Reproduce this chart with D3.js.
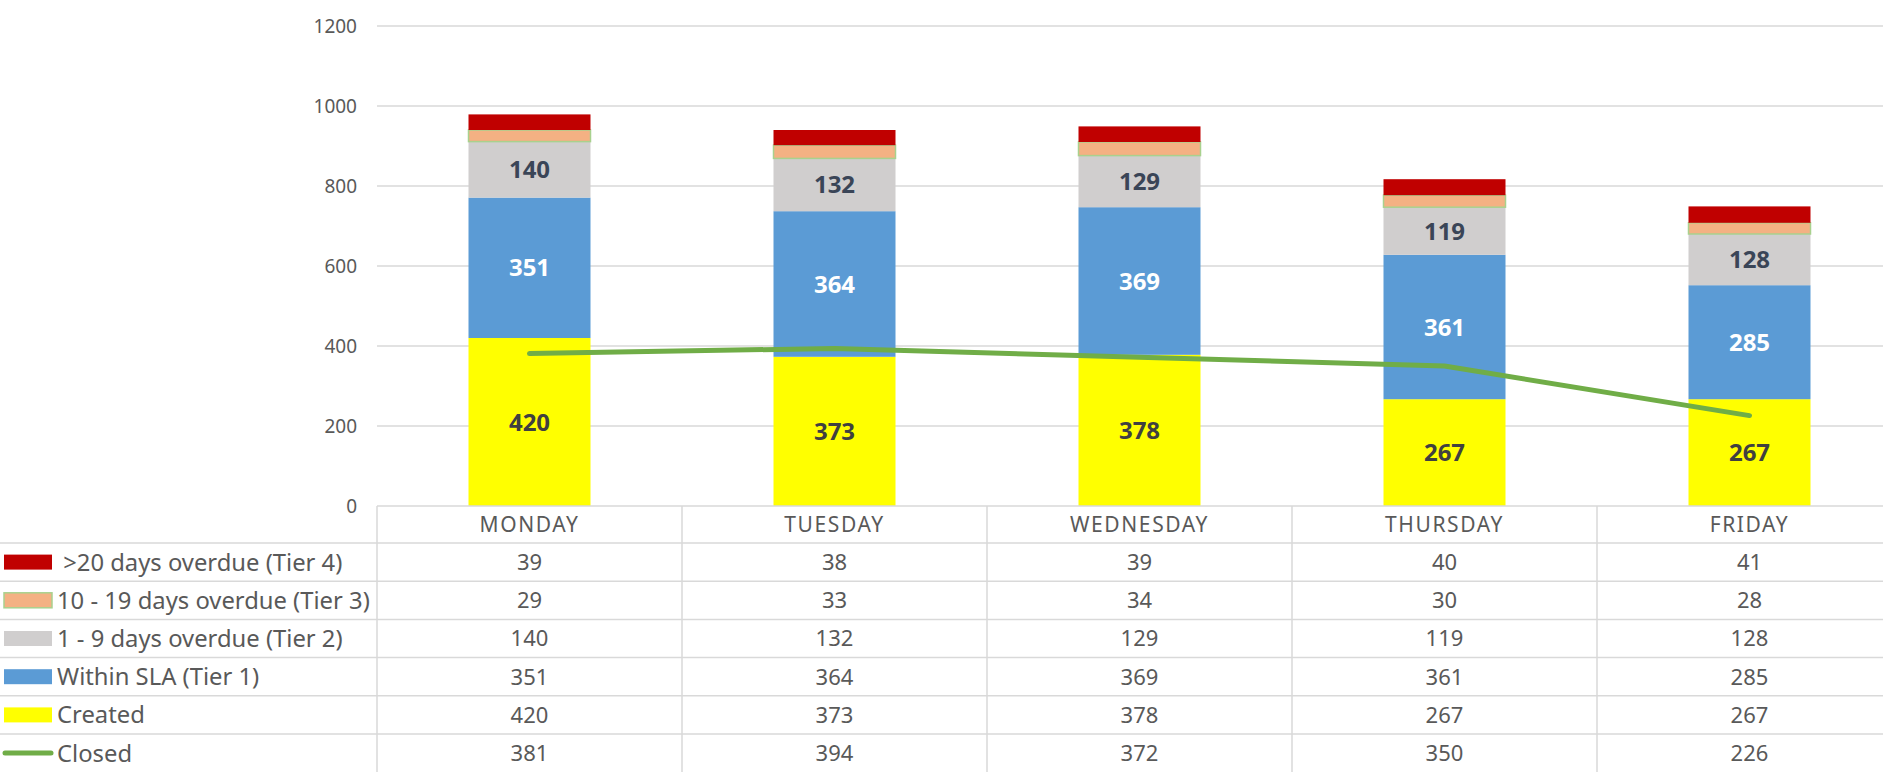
<!DOCTYPE html>
<html><head><meta charset="utf-8">
<script src="https://cdn.jsdelivr.net/npm/d3@7"></script>
<style>
html,body{margin:0;padding:0;background:#fff;}
svg{display:block;font-family:"Noto Sans",sans-serif;}
</style></head>
<body><svg id="c" width="1883" height="772"></svg>
<script>
const days = ["MONDAY","TUESDAY","WEDNESDAY","THURSDAY","FRIDAY"];
const tier4 = [39,38,39,40,41];
const tier3 = [29,33,34,30,28];
const tier2 = [140,132,129,119,128];
const tier1 = [351,364,369,361,285];
const created = [420,373,378,267,267];
const closed = [381,394,372,350,226];
const yTicks = [0,200,400,600,800,1000,1200];
const seriesNames = [" >20 days overdue (Tier 4)","10 - 19 days overdue (Tier 3)","1 - 9 days overdue (Tier 2)","Within SLA (Tier 1)","Created","Closed"];

const colors = {t4:"#C00000", t3:"#F4B183", t2:"#D0CECE", t1:"#5B9BD5", cr:"#FFFF00", cl:"#70AD47"};

const W = 1883, H = 772;
const svg = d3.select("#c");
const plotLeft = 377, band = 305;
const x = d3.scaleBand().domain(days).range([plotLeft, plotLeft + band*days.length]).paddingInner(0).paddingOuter(0);
const y = d3.scaleLinear().domain([0,1200]).range([506,26]);
const barW = x.bandwidth()*0.4;
const grid = "#D9D9D9";
const txt = "#595959";

// gridlines
svg.append("g").selectAll("line").data(yTicks.filter(d=>d>0)).join("line")
  .attr("x1", plotLeft).attr("x2", W).attr("y1", d=>y(d)).attr("y2", d=>y(d))
  .attr("stroke", grid).attr("stroke-width", 1.5);

// y axis labels
const yAxis = d3.axisLeft(y).tickValues(yTicks).tickFormat(d3.format("d")).tickSize(0).tickPadding(0);
const ya = svg.append("g").attr("transform", `translate(357,0)`).call(yAxis);
ya.select(".domain").remove();
ya.selectAll("text").attr("font-family","Noto Sans").attr("font-size",19).attr("fill",txt).attr("dy","0.35em");

// stacked bars
const layers = [
  {key:"cr", vals:created},
  {key:"t1", vals:tier1},
  {key:"t2", vals:tier2},
  {key:"t3", vals:tier3},
  {key:"t4", vals:tier4}
];
const rows = days.map((d,i)=>{ const o={day:d}; layers.forEach(l=>o[l.key]=l.vals[i]); return o; });
const stack = d3.stack().keys(layers.map(l=>l.key))(rows);
const bars = svg.append("g");
stack.forEach(s=>{
  bars.append("g").selectAll("rect").data(s).join("rect")
    .attr("x", d=>x(d.data.day) + (x.bandwidth()-barW)/2)
    .attr("width", barW)
    .attr("y", d=>y(d[1]))
    .attr("height", d=>y(d[0])-y(d[1]))
    .attr("fill", colors[s.key])
    .attr("stroke", s.key==="t3" ? "#A9D18E" : "none")
    .attr("stroke-width", s.key==="t3" ? 1.5 : 0);
});
// data labels
const labelColors = {cr:"#404040", t1:"#FFFFFF", t2:"#3A4557"};
stack.filter(s=>labelColors[s.key]).forEach(s=>{
  svg.append("g").selectAll("text").data(s).join("text")
    .attr("x", d=>x(d.data.day)+x.bandwidth()/2)
    .attr("y", d=>y((d[0]+d[1])/2))
    .attr("dy","0.36em")
    .attr("text-anchor","middle")
    .attr("font-size",24).attr("font-weight","bold")
    .attr("fill", labelColors[s.key])
    .text(d=>d[1]-d[0]);
});

// closed line
const line = d3.line().x((d,i)=>x(days[i])+x.bandwidth()/2).y(d=>y(d));
svg.append("path").datum(closed).attr("d", line).attr("fill","none")
  .attr("stroke", colors.cl).attr("stroke-width", 5).attr("stroke-linecap","round").attr("stroke-linejoin","round");

// data table
const tTop = 506, headH = 37, rowH = 38.2;
const tbl = svg.append("g");
const rowTops = d3.range(seriesNames.length+1).map(i=>tTop+headH+i*rowH);
tbl.append("line").attr("x1",plotLeft).attr("x2",W).attr("y1",tTop).attr("y2",tTop).attr("stroke",grid).attr("stroke-width",1.5);
tbl.selectAll("line.h").data(rowTops.slice(0,-1)).join("line").attr("class","h")
  .attr("x1",0).attr("x2",W).attr("y1",d=>d).attr("y2",d=>d).attr("stroke",grid).attr("stroke-width",1.5);
const vx = days.map(d=>x(d)).concat([x(days[days.length-1])+x.bandwidth()]);
tbl.selectAll("line.v").data(vx).join("line").attr("class","v")
  .attr("x1",d=>d).attr("x2",d=>d).attr("y1",tTop).attr("y2",H).attr("stroke",grid).attr("stroke-width",1.5);
tbl.selectAll("text.hd").data(days).join("text").attr("class","hd")
  .attr("x",d=>x(d)+x.bandwidth()/2).attr("y",tTop+headH/2).attr("dy","0.36em")
  .attr("text-anchor","middle").attr("font-size",21).attr("letter-spacing",1.6).attr("fill",txt).text(d=>d);
const tableSeries = [tier4,tier3,tier2,tier1,created,closed];
tableSeries.forEach((vals,r)=>{
  const cy = rowTops[r]+rowH/2;
  tbl.append("g").selectAll("text").data(vals).join("text")
    .attr("x",(d,i)=>x(days[i])+x.bandwidth()/2).attr("y",cy).attr("dy","0.36em")
    .attr("text-anchor","middle").attr("font-size",22).attr("fill",txt).text(d=>d);
});
const keyColors = [colors.t4, colors.t3, colors.t2, colors.t1, colors.cr];
seriesNames.forEach((name,r)=>{
  const cy = rowTops[r]+rowH/2;
  if (r < 5) {
    tbl.append("rect").attr("x",4).attr("y",cy-7.5).attr("width",48).attr("height",15)
      .attr("fill",keyColors[r]).attr("stroke", r===1 ? "#A9D18E" : "none").attr("stroke-width", r===1?1.5:0);
  } else {
    tbl.append("line").attr("x1",5).attr("x2",51).attr("y1",cy).attr("y2",cy)
      .attr("stroke",colors.cl).attr("stroke-width",5).attr("stroke-linecap","round");
  }
  tbl.append("text").attr("x",57).attr("y",cy).attr("dy","0.36em")
    .attr("font-size",23.8).attr("fill",txt).style("white-space","pre").text(name);
});
</script></body></html>
